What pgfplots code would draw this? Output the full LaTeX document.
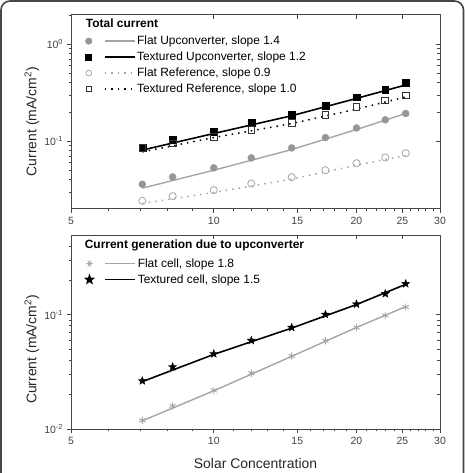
\documentclass[border=0pt]{standalone}
\usepackage{pgfplots}
\pgfplotsset{compat=1.18}
\usepackage{fontspec}
\setmainfont{Liberation Sans}
\definecolor{mgray}{RGB}{150,150,150}
\definecolor{lgray}{RGB}{165,165,165}
\definecolor{axgray}{RGB}{70,70,70}
\pgfdeclareplotmark{fstar}{%
  \pgfpathmoveto{\pgfpointpolar{90}{\pgfplotmarksize}}%
  \pgfpathlineto{\pgfpointpolar{126}{0.42\pgfplotmarksize}}%
  \pgfpathlineto{\pgfpointpolar{162}{\pgfplotmarksize}}%
  \pgfpathlineto{\pgfpointpolar{198}{0.42\pgfplotmarksize}}%
  \pgfpathlineto{\pgfpointpolar{234}{\pgfplotmarksize}}%
  \pgfpathlineto{\pgfpointpolar{270}{0.42\pgfplotmarksize}}%
  \pgfpathlineto{\pgfpointpolar{306}{\pgfplotmarksize}}%
  \pgfpathlineto{\pgfpointpolar{342}{0.42\pgfplotmarksize}}%
  \pgfpathlineto{\pgfpointpolar{18}{\pgfplotmarksize}}%
  \pgfpathlineto{\pgfpointpolar{54}{0.42\pgfplotmarksize}}%
  \pgfpathclose
  \pgfusepathqfillstroke
}
\begin{document}
\begin{tikzpicture}
\useasboundingbox (0,0) rectangle (465bp,473bp);
\draw[axgray, line width=1.6bp, rounded corners=9bp] (1bp,-5bp) -- (1bp,472bp) -- (463.5bp,472bp) -- (463.5bp,-5bp);

% ---------- top axis ----------
\begin{axis}[at={(71bp,264bp)}, anchor=south west,
  xmode=log, ymode=log, scale only axis, width=369bp, height=194bp,
  xmin=5, xmax=30, ymin=0.02, ymax=2,
  xtick={5,10,15,20,25,30}, xticklabels={5,10,15,20,25,30},
  minor xtick={6,7,8,9,11,12,13,14,16,17,18,19,21,22,23,24,26,27,28,29},
  ytick={0.1,1}, yticklabels={10\textsuperscript{-1},10\textsuperscript{0}},
  minor ytick={0.03,0.04,0.05,0.06,0.07,0.08,0.09,0.2,0.3,0.4,0.5,0.6,0.7,0.8,0.9,2},
  tick align=outside, tick pos=left,
  major tick length=4.5bp, minor tick length=2.5bp,
  axis line style={axgray, line width=1bp},
  tick style={axgray, line width=0.8bp},
  ticklabel style={font=\fontsize{10.5}{12}\selectfont, text=black!75},
  legend cell align=left,
  legend style={draw=none, fill=none, at={(axis description cs:0.03,0.918)}, anchor=north west,
    font=\fontsize{12}{14}\selectfont, row sep=0pt,
    nodes={inner sep=1.5bp, text height=10bp, text depth=3bp}},
  ylabel={Current (mA/cm\textsuperscript{2})},
  ylabel style={at={(axis description cs:-0.106,0.45)}, anchor=center, font=\fontsize{14}{16}\selectfont, text=black!85},
]
\node[anchor=west, font=\bfseries\fontsize{12}{14}\selectfont, inner sep=0pt] at (axis description cs:0.04,0.96) {Total current};

\addplot[only marks, mark=*, mgray, mark size=3.5bp, forget plot] coordinates {
(7.07,0.0360) (8.19,0.0428) (10.0,0.0531) (12.0,0.0673) (14.6,0.0853) (17.2,0.109) (20.0,0.137) (23.0,0.166) (25.4,0.193)};
\addplot[only marks, mark=square*, black, mark size=3.4bp, forget plot] coordinates {
(7.07,0.0861) (8.19,0.104) (10.0,0.125) (12.0,0.154) (14.6,0.188) (17.2,0.233) (20.0,0.284) (23.0,0.341) (25.4,0.399)};
\addplot[only marks, mark=o, lgray, mark size=3.6bp, mark options={line width=0.8bp}, forget plot] coordinates {
(7.07,0.0243) (8.19,0.0271) (10.0,0.0313) (12.0,0.0366) (14.6,0.0426) (17.2,0.0502) (20.0,0.0593) (23.0,0.0679) (25.4,0.0752)};
\addplot[only marks, mark=square, black!80, mark size=3.4bp, mark options={line width=0.8bp}, forget plot] coordinates {
(7.07,0.0845) (8.19,0.095) (10.0,0.111) (12.0,0.130) (14.6,0.154) (17.2,0.188) (20.0,0.224) (23.0,0.263) (25.4,0.296)};

\addplot[lgray, line width=1.4bp, legend image code/.code={
  \fill[mgray] (0bp,0bp) circle (2.8bp);
  \draw[lgray, line width=1.4bp] (16bp,0bp) -- (46bp,0bp);}]
  coordinates {(7.07,0.0328) (10.0,0.0502) (14.6,0.082) (20.0,0.132) (25.4,0.193)};
\addlegendentry{Flat Upconverter, slope 1.4}
\addplot[black, line width=1.6bp, legend image code/.code={
  \fill[black] (-2.7bp,-2.7bp) rectangle (2.7bp,2.7bp);
  \draw[black, line width=1.6bp] (16bp,0bp) -- (46bp,0bp);}]
  coordinates {(7.07,0.081) (10.0,0.120) (14.6,0.183) (20.0,0.276) (25.4,0.380)};
\addlegendentry{Textured Upconverter, slope 1.2}
\addplot[lgray, line width=1.5bp, dash pattern=on 1.5bp off 5bp, legend image code/.code={
  \draw[lgray, solid, line width=0.8bp] (0bp,0bp) circle (2.9bp);
  \draw[lgray, line width=1.5bp, dash pattern=on 1.5bp off 5bp] (16bp,0bp) -- (46bp,0bp);}]
  coordinates {(7.07,0.0228) (10.0,0.0296) (14.6,0.0406) (20.0,0.0566) (25.4,0.0712)};
\addlegendentry{Flat Reference, slope 0.9}
\addplot[black, line width=1.5bp, dash pattern=on 1.5bp off 5bp, legend image code/.code={
  \draw[black!80, solid, line width=0.8bp] (-2.7bp,-2.7bp) rectangle (2.7bp,2.7bp);
  \draw[black, line width=1.5bp, dash pattern=on 1.5bp off 5bp] (16bp,0bp) -- (46bp,0bp);}]
  coordinates {(7.07,0.0776) (10.0,0.109) (14.6,0.152) (20.0,0.214) (25.4,0.286)};
\addlegendentry{Textured Reference, slope 1.0}
\end{axis}
\begin{axis}[at={(71bp,264bp)}, anchor=south west,
  xmode=log, ymode=log, scale only axis, width=369bp, height=194bp,
  xmin=5, xmax=30, ymin=0.02, ymax=2,
  axis line style={draw=none},
  xtick={5,10,15,20,25,30}, xticklabels={}, ytick={0.1,1}, yticklabels={},
  minor xtick={}, minor ytick={},
  tick align=inside, tick pos=right, major tick length=4.5bp,
  tick style={axgray, line width=0.8bp}]
\end{axis}

% ---------- bottom axis ----------
\begin{axis}[at={(71bp,44bp)}, anchor=south west,
  xmode=log, ymode=log, scale only axis, width=369bp, height=194bp,
  xmin=5, xmax=30, ymin=0.01, ymax=0.5,
  xtick={5,10,15,20,25,30}, xticklabels={5,10,15,20,25,30},
  minor xtick={6,7,8,9,11,12,13,14,16,17,18,19,21,22,23,24,26,27,28,29},
  ytick={0.01,0.1}, yticklabels={10\textsuperscript{-2},10\textsuperscript{-1}},
  minor ytick={0.02,0.03,0.04,0.05,0.06,0.07,0.08,0.09,0.2,0.3,0.4},
  tick align=outside, tick pos=left,
  major tick length=4.5bp, minor tick length=2.5bp,
  axis line style={axgray, line width=1bp},
  tick style={axgray, line width=0.8bp},
  ticklabel style={font=\fontsize{10.5}{12}\selectfont, text=black!75},
  legend cell align=left,
  legend style={draw=none, fill=none, at={(axis description cs:0.03,0.905)}, anchor=north west,
    font=\fontsize{12}{14}\selectfont, row sep=0pt,
    nodes={inner sep=1.5bp, text height=10bp, text depth=3bp}},
  ylabel={Current (mA/cm\textsuperscript{2})},
  ylabel style={at={(axis description cs:-0.106,0.41)}, anchor=center, font=\fontsize{14}{16}\selectfont, text=black!85},
  xlabel={Solar Concentration},
  xlabel style={at={(axis description cs:0.5,-0.18)}, anchor=center, font=\fontsize{14}{16}\selectfont, text=black!85},
]
\node[anchor=west, font=\bfseries\fontsize{12}{14}\selectfont, inner sep=0pt] at (axis description cs:0.037,0.948) {Current generation due to upconverter};

\addplot[only marks, mark=asterisk, lgray, mark size=3.6bp, mark options={line width=0.9bp}, forget plot] coordinates {
(7.07,0.0119) (8.19,0.0159) (10.0,0.0218) (12.0,0.0308) (14.6,0.0435) (17.2,0.0592) (20.0,0.0774) (23.0,0.0987) (25.4,0.117)};
\addplot[only marks, mark=fstar, black, mark size=4.2bp, forget plot] coordinates {
(7.07,0.0264) (8.19,0.035) (10.0,0.0455) (12.0,0.0596) (14.6,0.0774) (17.2,0.1006) (20.0,0.124) (23.0,0.153) (25.4,0.187)};

\addplot[lgray, line width=1.4bp, legend image code/.code={
  \draw[lgray, line width=0.9bp] (-3.2bp,0bp) -- (3.2bp,0bp) (-1.6bp,-2.8bp) -- (1.6bp,2.8bp) (-1.6bp,2.8bp) -- (1.6bp,-2.8bp);
  \draw[lgray, line width=1.4bp] (16bp,0bp) -- (46bp,0bp);}]
  coordinates {(7.07,0.0118) (10.0,0.0216) (14.6,0.0433) (20.0,0.0775) (25.4,0.118)};
\addlegendentry{Flat cell, slope 1.8}
\addplot[black, line width=1.6bp, legend image code/.code={
  \fill[black] (90:3.6bp) -- (126:1.5bp) -- (162:3.6bp) -- (198:1.5bp) -- (234:3.6bp) -- (270:1.5bp) -- (306:3.6bp) -- (342:1.5bp) -- (18:3.6bp) -- (54:1.5bp) -- cycle;
  \draw[black, line width=1.6bp] (16bp,0bp) -- (46bp,0bp);}]
  coordinates {(7.07,0.026) (10.0,0.045) (14.6,0.0765) (20.0,0.123) (25.4,0.185)};
\addlegendentry{Textured cell, slope 1.5}
\end{axis}
\begin{axis}[at={(71bp,44bp)}, anchor=south west,
  xmode=log, ymode=log, scale only axis, width=369bp, height=194bp,
  xmin=5, xmax=30, ymin=0.01, ymax=0.5,
  axis line style={draw=none},
  xtick={5,10,15,20,25,30}, xticklabels={}, ytick={0.01,0.1}, yticklabels={},
  minor xtick={}, minor ytick={},
  tick align=inside, tick pos=right, major tick length=4.5bp,
  tick style={axgray, line width=0.8bp}]
\end{axis}
\end{tikzpicture}
\end{document}
